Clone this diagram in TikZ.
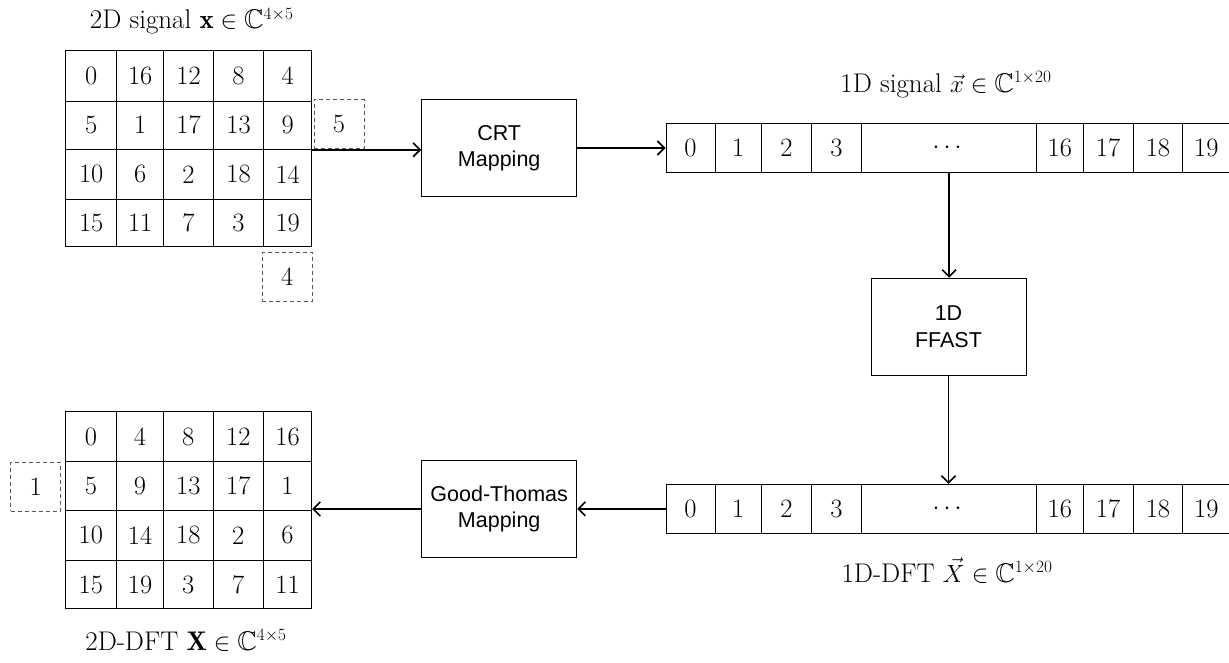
\documentclass[tikz,border=0pt]{standalone}
\usepackage{amsmath,amssymb}
\usepackage{fontspec}
\newfontfamily\boxfont{Liberation Sans}
\usetikzlibrary{arrows.meta}
\tikzset{
  cell/.style={draw, line width=1pt, inner sep=0pt, font=\fontsize{26.5}{31}\selectfont},
  procbox/.style={draw, line width=1pt, inner sep=0pt, align=center,
    font=\boxfont\fontsize{21.5}{26.5}\selectfont},
  ghost/.style={draw=black!65, dash pattern=on 4pt off 3pt, line width=1pt, inner sep=0pt,
    font=\fontsize{26.5}{31}\selectfont},
  flow/.style={-{Straight Barb[length=7pt,width=14pt,line width=1.6pt]}, line width=1.6pt},
  caption/.style={font=\fontsize{27}{32}\selectfont, anchor=base, inner sep=0pt}
}
\begin{document}
\begin{tikzpicture}[x=1pt,y=-1pt]
\useasboundingbox (0,0) rectangle (1229,662);
\def\tcx{{65.7,116.7,163.7,213.3,263.7,311.7}}
\def\tcy{{50,101,149.3,199.3,246.7}}
\def\bcx{{65,116.7,163.3,213.3,263.3,311.7}}
\def\bcy{{411.7,461.7,510,560.7,608.3}}
\def\acx{{666,715,761.5,811.4,861.6,1036.6,1083.2,1133,1182.9,1229.6}}
% top 2D grid
\foreach \r/\vals in {1/{0,16,12,8,4},2/{5,1,17,13,9},3/{10,6,2,18,14},4/{15,11,7,3,19}}{
  \foreach \v [count=\c] in \vals {
    \pgfmathsetmacro\xa{\tcx[\c-1]}
    \pgfmathsetmacro\xb{\tcx[\c]}
    \pgfmathsetmacro\ya{\tcy[\r-1]}
    \pgfmathsetmacro\yb{\tcy[\r]}
    \pgfmathsetmacro\w{\xb-\xa}
    \pgfmathsetmacro\h{\yb-\ya}
    \node[cell, minimum width=\w pt, minimum height=\h pt] (t\r\c) at ({(\xa+\xb)/2},{(\ya+\yb)/2}) {\v};
  }
}
% bottom 2D grid
\foreach \r/\vals in {1/{0,4,8,12,16},2/{5,9,13,17,1},3/{10,14,18,2,6},4/{15,19,3,7,11}}{
  \foreach \v [count=\c] in \vals {
    \pgfmathsetmacro\xa{\bcx[\c-1]}
    \pgfmathsetmacro\xb{\bcx[\c]}
    \pgfmathsetmacro\ya{\bcy[\r-1]}
    \pgfmathsetmacro\yb{\bcy[\r]}
    \pgfmathsetmacro\w{\xb-\xa}
    \pgfmathsetmacro\h{\yb-\ya}
    \node[cell, minimum width=\w pt, minimum height=\h pt] (g\r\c) at ({(\xa+\xb)/2},{(\ya+\yb)/2}) {\v};
  }
}
% 1D arrays
\foreach \v [count=\c] in {0,1,2,3,$\cdots$,16,17,18,19}{
  \pgfmathsetmacro\xa{\acx[\c-1]}
  \pgfmathsetmacro\xb{\acx[\c]}
  \pgfmathsetmacro\w{\xb-\xa}
  \node[cell, minimum width=\w pt, minimum height=49.2pt] (a\c) at ({(\xa+\xb)/2},147.9) {\v};
  \node[cell, minimum width=\w pt, minimum height=49pt] (b\c) at ({(\xa+\xb)/2},508.8) {\v};
}
% dashed boxes
\node[ghost, minimum width=50pt, minimum height=49.4pt] (d5) at (339,124) {5};
\node[ghost, minimum width=50pt, minimum height=49.4pt] (d4) at (287.3,277) {4};
\node[ghost, minimum width=50pt, minimum height=48.7pt] (d1) at (35.7,486.7) {1};
% processing boxes
\node[procbox, minimum width=155pt, minimum height=97.4pt] (crt) at (499.2,148) {CRT\\Mapping};
\node[procbox, minimum width=155pt, minimum height=97pt] (ffast) at (948.5,326.8) {1D\\FFAST};
\node[procbox, minimum width=155pt, minimum height=96.6pt] (gt) at (499.2,509) {Good-Thomas\\Mapping};
% captions
\node[caption] (cap1) at (191.7,28.5) {2D signal $\mathbf{x}\in\mathbb{C}^{4\times 5}$};
\node[caption] (cap2) at (946,92) {1D signal $\vec{x}\in\mathbb{C}^{1\times 20}$};
\node[caption] (cap3) at (947,582) {1D-DFT $\vec{X}\in\mathbb{C}^{1\times 20}$};
\node[caption] (cap4) at (186,650) {2D-DFT $\mathbf{X}\in\mathbb{C}^{4\times 5}$};
% connectors
\draw[flow] (t25.south east) -- (t25.south east -| crt.west);
\draw[flow] (crt.east) -- (crt.east -| a1.west);
\draw[flow] (a5.south) -- (a5.south |- ffast.north);
\draw[flow] (ffast.south) -- (ffast.south |- b5.north);
\draw[flow] (b1.west) -- (b1.west -| gt.east);
\draw[flow] (gt.west) -- (gt.west -| g25.south east);
\end{tikzpicture}
\end{document}
